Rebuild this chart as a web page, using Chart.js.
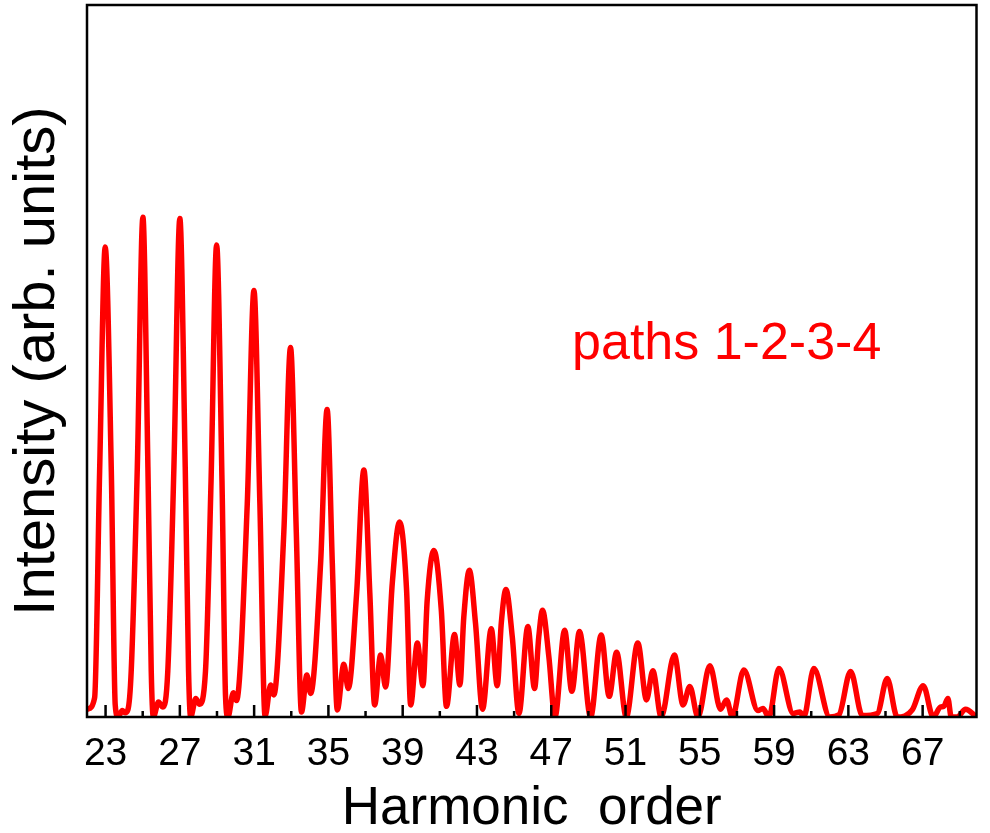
<!DOCTYPE html>
<html>
<head>
<meta charset="utf-8">
<title>Harmonic spectrum</title>
<script src="https://cdn.jsdelivr.net/npm/chart.js@4.4.1/dist/chart.umd.min.js"></script>
<style>
  html, body { margin: 0; padding: 0; background: #fff; }
  canvas { display: block; }
</style>
</head>
<body>
<canvas id="myChart" width="990" height="833"></canvas>
<script>
'use strict';

// spectrum: harmonic order vs intensity (arb. units)
var harmonicOrder = [
  22.03, 22.41, 22.68, 22.98, 23.31, 23.52, 23.67, 23.90, 24.05, 24.20,
  24.38, 24.71, 25.01, 25.28, 25.46, 25.57, 25.85, 26.09,
  26.35, 26.68, 27.00, 27.29, 27.47, 27.58, 27.86, 28.06,
  28.38, 28.68, 28.98, 29.27, 29.46, 29.59, 29.88, 30.05,
  30.63, 30.99, 31.31, 31.59, 31.89, 32.06,
  32.60, 32.96, 33.27, 33.55, 33.84, 34.04,
  34.58, 34.93, 35.21, 35.48, 35.83, 36.07,
  36.52, 36.91, 37.23, 37.49, 37.81, 38.08,
  38.44, 38.83, 39.21, 39.43, 39.79, 40.09,
  40.32, 40.68, 41.08, 41.36, 41.79, 42.08,
  42.29, 42.59, 42.92, 43.30, 43.77, 44.09,
  44.31, 44.56, 44.90, 45.26, 45.74, 46.10,
  46.33, 46.53, 46.87, 47.20,
  47.72, 48.11, 48.52, 49.12, 49.69, 50.12, 50.52, 51.04, 51.66, 52.13, 52.47, 52.92,
  53.63, 54.10, 54.46, 54.90, 55.54, 56.12, 56.44, 56.75, 57.37, 58.13, 58.40, 58.72,
  59.26, 60.03, 60.39, 60.60, 61.14, 62.00, 62.49, 63.12, 63.75, 64.56, 65.09, 65.63,
  66.44, 67.03, 67.57, 67.96, 68.14, 68.36, 68.54, 68.86, 69.31, 69.90
];

var intensity = [
  1.1, 2.7, 34.5, 66.0, 34.5, 1.7, 0.0, 0.9, 0.6, 1.0,
  6.4, 35.1, 70.2, 35.1, 6.4, 0.0, 2.1, 1.4,
  6.4, 35.1, 70.0, 35.1, 6.4, 0.0, 2.6, 1.8,
  6.4, 33.1, 66.3, 33.1, 2.9, 0.0, 3.4, 2.3,
  29.9, 59.9, 29.9, 0.1, 4.5, 3.1,
  26.0, 51.9, 26.0, 0.7, 5.9, 3.3,
  21.6, 43.2, 21.6, 1.0, 7.4, 4.0,
  17.4, 34.7, 17.4, 1.7, 8.7, 4.2,
  18.8, 27.4, 17.8, 1.7, 10.4, 4.4,
  16.4, 23.4, 15.0, 1.5, 11.6, 4.5,
  14.0, 20.6, 13.2, 1.1, 12.4, 4.4,
  13.2, 17.9, 11.3, 0.5, 12.7, 4.0,
  11.3, 15.0, 8.5, 0.0,
  12.2, 3.6, 12.0, 0.0, 11.5, 2.9, 9.1, 0.0, 10.4, 2.4, 6.5, 0.0,
  8.7, 1.7, 4.3, 0.0, 7.2, 1.1, 2.4, 0.0, 6.6, 0.9, 1.2, 0.0,
  6.8, 0.5, 0.7, 0.0, 6.8, 0.0, 0.3, 6.4, 0.2, 0.5, 5.4, 0.0,
  1.0, 4.4, 0.0, 1.4, 1.5, 2.6, 0.0, 0.0, 1.1, 0.0
];

// labelled ticks, and the short unlabelled ones between them
var majorTicks = [23, 27, 31, 35, 39, 43, 47, 51, 55, 59, 63, 67];
var minorTicks = [25, 29, 33, 37, 41, 45, 49, 53, 57, 61, 65, 69];

var FONT = "'Liberation Sans', Arial, sans-serif";

// box around the plot, inward ticks and the curve label
var framePlugin = {
  id: 'frame',
  afterDatasetsDraw: function(chart) {
    var ctx = chart.ctx;
    var area = chart.chartArea;
    var xs = chart.scales.x;
    var ys = chart.scales.y;

    ctx.save();
    ctx.strokeStyle = '#000';
    ctx.lineWidth = 2.5;
    ctx.strokeRect(area.left, area.top, area.right - area.left, area.bottom - area.top);

    ctx.beginPath();
    majorTicks.forEach(function(v) {
      var p = xs.getPixelForValue(v);
      ctx.moveTo(p, area.bottom);
      ctx.lineTo(p, area.bottom - 12);
    });
    minorTicks.forEach(function(v) {
      var p = xs.getPixelForValue(v);
      ctx.moveTo(p, area.bottom);
      ctx.lineTo(p, area.bottom - 6);
    });
    ctx.stroke();

    ctx.fillStyle = '#ff0000';
    ctx.font = '52px ' + FONT;
    ctx.textBaseline = 'alphabetic';
    ctx.textAlign = 'left';
    ctx.fillText('paths 1-2-3-4', xs.getPixelForValue(48.12), ys.getPixelForValue(50.3));
    ctx.restore();
  }
};

var ctx = document.getElementById('myChart').getContext('2d');

var chart = new Chart(ctx, {
  type: 'line',
  data: {
    datasets: [{
      label: 'paths 1-2-3-4',
      data: harmonicOrder.map(function(x, i) { return { x: x, y: intensity[i] }; }),
      borderColor: '#ff0000',
      borderWidth: 5.5,
      borderJoinStyle: 'round',
      borderCapStyle: 'round',
      pointRadius: 0,
      fill: false,
      cubicInterpolationMode: 'monotone'
    }]
  },
  options: {
    responsive: false,
    animation: false,
    events: [],
    layout: { padding: { top: 5, right: 13.5, left: 0, bottom: 0 } },
    plugins: {
      legend: { display: false },
      tooltip: { enabled: false }
    },
    scales: {
      x: {
        type: 'linear',
        min: 22,
        max: 69.9,
        afterBuildTicks: function(scale) {
          scale.ticks = majorTicks.map(function(v) { return { value: v }; });
        },
        afterFit: function(scale) { scale.height = 116; },
        grid: { display: false, drawTicks: false },
        border: { display: false },
        ticks: {
          autoSkip: false,
          maxRotation: 0,
          padding: 14,
          color: '#000',
          font: { family: FONT, size: 39 }
        },
        title: {
          display: true,
          text: 'Harmonic  order',
          color: '#000',
          font: { family: FONT, size: 53, lineHeight: 0.9 },
          padding: 0
        }
      },
      y: {
        min: 0,
        max: 100,
        afterFit: function(scale) { scale.width = 87; },
        grid: { display: false, drawTicks: false },
        border: { display: false },
        ticks: { display: false },
        title: {
          display: true,
          text: 'Intensity (arb. units)',
          color: '#000',
          font: { family: FONT, size: 58 },
          padding: { top: 3, bottom: 0 }
        }
      }
    }
  },
  plugins: [framePlugin]
});
</script>
</body>
</html>
